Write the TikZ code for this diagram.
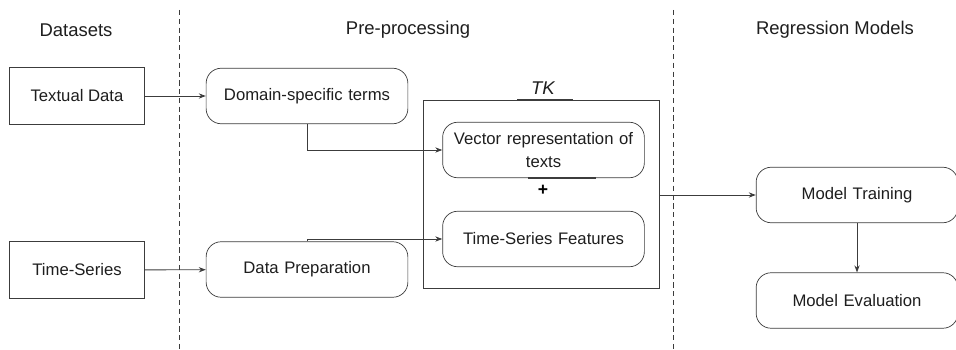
\documentclass[tikz,border=0pt]{standalone}
\usepackage{fontspec}
\setmainfont{Liberation Sans}
\usetikzlibrary{arrows.meta,positioning,calc}
\definecolor{flowline}{RGB}{60,60,60}
\definecolor{flowtext}{RGB}{30,30,30}

\begin{document}
\begin{tikzpicture}[
    sbox/.style={draw=flowline, fill=white, minimum width=2.7cm,
                 minimum height=1.14cm, align=center, font=\fontsize{9.5}{13}\selectfont,
                 text=flowtext},
    rbox/.style={draw=flowline, fill=white, rounded corners=0.3cm,
                 minimum width=4.03cm, minimum height=1.11cm, text width=3.8cm,
                 align=center, font=\fontsize{9.5}{13}\selectfont, text=flowtext},
    head/.style={font=\fontsize{10.5}{12}\selectfont, text=flowtext},
    flow/.style={draw=flowline, line width=0.5pt,
                 -{Stealth[length=4pt,width=3pt]}},
    sep/.style={draw=flowline, line width=0.5pt, dash pattern=on 3pt off 2pt},
]
\useasboundingbox (0,0) rectangle (19.12,6.98);

% column headings
\node[head] (hdata) at (1.52,6.38) {Datasets};
\node[head] (hpre)  at (8.16,6.38) {Pre-processing};
\node[head] (hreg)  at (16.7,6.38) {Regression Models};

% separators
\draw[sep] (3.58,6.78) -- (3.58,0);
\draw[sep] (13.46,6.78) -- (13.46,0);

% datasets
\node[sbox] (text) at (1.54,5.06) {Textual Data};
\node[sbox] (ts)   at (1.54,1.58) {Time-Series};

% pre-processing
\node[rbox] (dom)  at (6.14,5.06) {Domain-specific terms};
\node[rbox] (prep) at (6.14,1.59) {Data Preparation};

\node[draw=flowline, minimum width=4.72cm, minimum height=3.76cm] (tk)
    at (10.82,3.10) {};
\node[font=\itshape\fontsize{10.5}{12}\selectfont, text=flowtext] (tklab)
    at (10.86,5.22) {TK};
\node[rbox] (vec) at (10.87,3.98) {Vector representation of\\ texts};
\node[font=\bfseries\fontsize{10}{12}\selectfont] (plus) at (10.86,3.17) {+};
\node[rbox] (tsf) at (10.87,2.20) {Time-Series Features};

\draw[flowline, line width=1.2pt] ($(tk.north)+(-0.48,0)$) -- ($(tk.north)+(0.64,0)$);
\draw[flowline, line width=1.2pt] ($(vec.south)+(-0.31,0)$) -- ($(vec.south)+(1.05,0)$);

% regression models
\node[rbox, minimum width=3.94cm] (train) at (17.14,3.08) {Model Training};
\node[rbox, minimum width=3.94cm] (eval)  at (17.14,0.97) {Model Evaluation};

% connectors
\draw[flow] (text) -- (dom);
\draw[flow] (ts) -- (prep);
\draw[flow] (dom) |- (vec);
\draw[flow] (prep) |- (tsf);
\draw[flow] (tk.east |- train) -- (train);
\draw[flow] (train) -- (eval);
\end{tikzpicture}
\end{document}
